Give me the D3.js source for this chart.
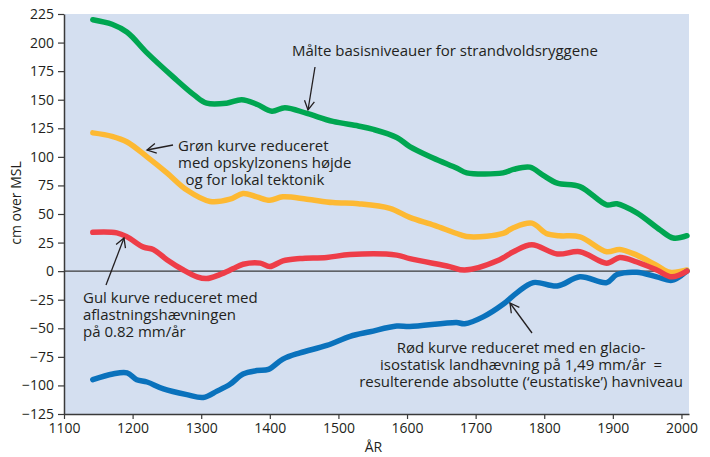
<!DOCTYPE html>
<html>
<head>
    <meta charset="utf-8">
    <title>Havniveau</title>
    <script src="https://d3js.org/d3.v7.min.js"></script>
    <style>
        html, body {
            margin: 0;
            background: #fff;
        }
        text {
            font-family: "Open Sans", sans-serif;
            fill: #231f20;
        }
    </style>
</head>
<body>
    <svg id="svg"></svg>
    <script>
        // data: [year, cm over MSL]
        const green = [[1142, 220], [1170, 216], [1192, 209], [1221, 191], [1259, 170], [1290, 154], [1308, 147],
            [1337, 147], [1359, 150], [1381, 146], [1403, 140], [1422, 143], [1454, 138], [1492, 131], [1529, 127],
            [1551, 124], [1585, 117], [1604, 109], [1638, 99], [1673, 90], [1687, 86], [1740, 86], [1755, 89],
            [1779, 91], [1798, 84], [1819, 77], [1852, 74], [1891, 58], [1906, 59], [1935, 51], [1969, 36],
            [1988, 29], [2008, 31]];
        const yellow = [[1142, 121], [1170, 118], [1192, 113], [1221, 100], [1250, 86], [1279, 71], [1313, 61],
            [1342, 63], [1361, 68], [1381, 65], [1400, 62], [1419, 65], [1454, 63], [1492, 60], [1529, 59],
            [1575, 55], [1604, 47], [1640, 40], [1677, 32], [1692, 30], [1740, 33], [1755, 38], [1782, 42],
            [1803, 33], [1822, 31], [1852, 30], [1891, 17], [1910, 19], [1935, 14], [1964, 5], [1983, -1], [2008, 1]];
        const red = [[1142, 34], [1177, 33.5], [1192, 30], [1216, 21], [1230, 19], [1250, 10], [1274, 1],
            [1294, -5], [1308, -6.5], [1327, -3], [1346, 2], [1361, 6], [1386, 7], [1400, 4], [1419, 9], [1444, 11],
            [1483, 12], [1517, 14.5], [1585, 14], [1604, 11], [1662, 4], [1684, 1], [1735, 10], [1755, 17],
            [1782, 23], [1819, 15], [1852, 17], [1891, 7], [1910, 12], [1935, 8], [1964, 1], [1986, -5], [2008, 0]];
        const blue = [[1142, -95], [1171, -90], [1192, -89], [1206, -95], [1221, -97], [1245, -103], [1279, -108],
            [1303, -110.5], [1323, -105], [1342, -99], [1361, -90], [1381, -87], [1398, -86], [1419, -77],
            [1444, -71.5], [1483, -65], [1517, -57], [1546, -53], [1585, -48], [1604, -48.5], [1672, -45],
            [1684, -46], [1711, -40], [1740, -29], [1760, -19], [1784, -10], [1819, -13], [1852, -5], [1891, -10],
            [1906, -3], [1935, -1], [1964, -5], [1986, -8], [2008, 0]];

        const xTicks = [1100, 1200, 1300, 1400, 1500, 1600, 1700, 1800, 1900, 2000];
        const yTicks = [225, 200, 175, 150, 125, 100, 75, 50, 25, 0, -25, -50, -75, -100, -125];

        const series = [
            { values: green, color: "#00a651" },
            { values: yellow, color: "#fdb933" },
            { values: blue, color: "#0a72bc" },
            { values: red, color: "#ee3d48" }
        ];

        const width = 710;
        const height = 457;
        const margins = { top: 14, left: 64, right: 21, bottom: 43 };

        const svg = d3.select("#svg")
            .attr("width", width)
            .attr("height", height);

        const x = d3.scaleLinear().domain([1100, 2011]).range([margins.left, width - margins.right]);
        const y = d3.scaleLinear().domain([-125, 225]).range([height - margins.bottom, margins.top]);

        svg.append("rect")
            .attr("x", margins.left)
            .attr("y", margins.top)
            .attr("width", width - margins.left - margins.right)
            .attr("height", height - margins.top - margins.bottom)
            .attr("fill", "#d4dff0");

        // zero line
        svg.append("line")
            .attr("x1", x(1100)).attr("x2", x(2011))
            .attr("y1", y(0)).attr("y2", y(0))
            .attr("stroke", "#3a3a3a")
            .attr("stroke-width", 1.2);

        const line = d3.line()
            .x(d => x(d[0]))
            .y(d => y(d[1]))
            .curve(d3.curveCatmullRom);

        svg.selectAll("path.series")
            .data(series)
            .enter()
            .append("path")
            .attr("class", "series")
            .attr("d", d => line(d.values))
            .attr("fill", "none")
            .attr("stroke", d => d.color)
            .attr("stroke-width", 5.5)
            .attr("stroke-linecap", "round")
            .attr("stroke-linejoin", "round");

        const xAxis = svg.append("g")
            .attr("transform", `translate(0, ${height - margins.bottom})`)
            .call(d3.axisBottom(x).tickValues(xTicks).tickFormat(d3.format("d")).tickSize(5).tickPadding(4).tickSizeOuter(0));

        const yAxis = svg.append("g")
            .attr("transform", `translate(${margins.left}, 0)`)
            .call(d3.axisLeft(y).tickValues(yTicks).tickSize(6).tickPadding(4).tickSizeOuter(0));

        [xAxis, yAxis].forEach(g => {
            g.select(".domain").attr("stroke", "#3a3a3a").attr("stroke-width", 1.5);
            g.selectAll(".tick line").attr("stroke", "#3a3a3a").attr("stroke-width", 1.2);
            g.selectAll(".tick text").attr("font-size", 14).attr("font-family", "Open Sans, sans-serif").attr("fill", "#231f20");
        });

        svg.append("text")
            .attr("x", x(1100) + (x(2011) - x(1100)) / 2 - 3)
            .attr("y", 452)
            .attr("text-anchor", "middle")
            .attr("font-size", 14)
            .text("ÅR");

        svg.append("text")
            .attr("transform", `translate(21, 203) rotate(-90)`)
            .attr("text-anchor", "middle")
            .attr("font-size", 14)
            .text("cm over MSL");

        // annotations
        const notes = [
            { x: 292, y: 56, anchor: "start", lines: ["Målte basisniveauer for strandvoldsryggene"] },
            { x: 178, y: 151, anchor: "start", lines: ["Grøn kurve reduceret", "med opskylzonens højde", "\u2002og for lokal tektonik"] },
            { x: 83, y: 303, anchor: "start", lines: ["Gul kurve reduceret med", "aflastningshævningen", "på 0.82 mm/år"] },
            { x: 521, y: 353, anchor: "middle", lines: ["Rød kurve reduceret med en glacio-", "isostatisk landhævning på 1,49 mm/år\u2002=", "resulterende absolutte (\u2018eustatiske\u2019) havniveau"] }
        ];

        notes.forEach(n => {
            const t = svg.append("text")
                .attr("font-size", 15)
                .attr("text-anchor", n.anchor);
            n.lines.forEach((l, i) => {
                t.append("tspan")
                    .attr("x", n.x)
                    .attr("y", n.y + i * 16.8)
                    .text(l);
            });
        });

        svg.append("defs").append("marker")
            .attr("id", "head")
            .attr("viewBox", "-10 -6 12 12")
            .attr("markerWidth", 12)
            .attr("markerHeight", 12)
            .attr("markerUnits", "userSpaceOnUse")
            .attr("orient", "auto")
            .append("path")
            .attr("d", "M-9,-5 L0,0 L-9,5")
            .attr("fill", "none")
            .attr("stroke", "#231f20")
            .attr("stroke-width", 1.3);

        const arrows = [
            [315, 67, 308, 110],
            [173, 145, 147, 150],
            [106, 285, 124, 238],
            [532, 333, 510, 303]
        ];

        svg.selectAll("line.arrow")
            .data(arrows)
            .enter()
            .append("line")
            .attr("class", "arrow")
            .attr("x1", d => d[0]).attr("y1", d => d[1])
            .attr("x2", d => d[2]).attr("y2", d => d[3])
            .attr("stroke", "#231f20")
            .attr("stroke-width", 1.3)
            .attr("marker-end", "url(#head)");
    </script>
</body>
</html>
